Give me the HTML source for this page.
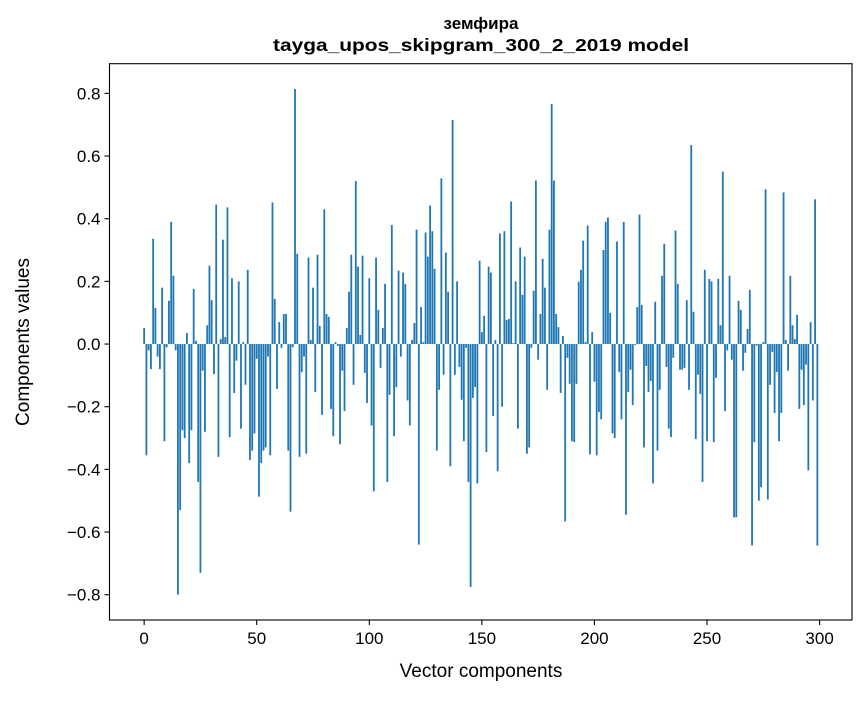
<!DOCTYPE html>
<html><head><meta charset="utf-8"><style>
body{margin:0;background:#fff;}
svg text{font-family:"Liberation Sans","DejaVu Sans",sans-serif;fill:#000;}
</style></head><body>
<svg id="chart" width="867" height="696" viewBox="0 0 867 696" xmlns="http://www.w3.org/2000/svg">
<rect width="867" height="696" fill="#fff"/>
<g id="bars"></g>
<g id="axes"></g>
<text x="481" y="29" font-size="17" font-weight="bold" text-anchor="middle">земфира</text>
<text x="481" y="51" font-size="17.5" font-weight="bold" text-anchor="middle" textLength="416" lengthAdjust="spacingAndGlyphs">tayga_upos_skipgram_300_2_2019 model</text>
<text x="481" y="677" font-size="19" text-anchor="middle">Vector components</text>
<text x="0" y="0" font-size="19" text-anchor="middle" transform="translate(29,342) rotate(-90)">Components values</text>
</svg>
<script>
const values = [
0.051,-0.355,-0.02,-0.08,0.336,0.115,-0.04,-0.08,0.18,-0.31,
-0.01,0.138,0.39,0.218,-0.02,-0.80,-0.53,-0.275,-0.30,0.035,
-0.38,-0.275,0.176,0.01,-0.44,-0.73,-0.085,-0.28,0.06,0.25,
0.14,-0.096,0.445,-0.36,0.016,0.333,0.022,0.436,-0.297,0.21,
-0.156,-0.053,0.20,-0.27,0.006,-0.13,0.237,-0.37,-0.34,-0.285,
-0.047,-0.487,-0.38,-0.34,-0.33,-0.04,-0.355,0.452,0.144,-0.143,
0.07,-0.012,0.096,0.096,-0.34,-0.535,-0.01,0.814,0.288,-0.36,
-0.09,-0.04,-0.35,0.276,0.013,0.18,-0.153,0.285,0.058,-0.226,
0.43,0.096,0.087,-0.207,-0.294,0.006,-0.006,-0.32,-0.085,-0.214,
0.051,0.167,0.285,-0.13,0.52,0.247,0.029,0.282,-0.092,-0.188,
0.21,-0.26,-0.47,0.276,0.109,-0.076,0.051,0.192,-0.44,-0.162,
0.38,-0.294,-0.137,0.234,-0.04,0.228,0.192,-0.18,-0.26,0.013,
0.067,0.365,-0.64,0.118,0.006,0.356,0.279,0.442,0.36,0.24,
-0.34,-0.146,0.529,-0.098,0.292,0.167,-0.39,0.715,-0.098,0.20,
-0.073,-0.178,-0.31,-0.012,-0.44,-0.775,-0.172,-0.137,-0.445,0.266,
0.038,0.09,-0.345,0.247,0.228,-0.23,0.013,-0.406,0.353,-0.2,
0.36,0.077,0.08,0.455,0.003,0.20,-0.27,0.308,0.157,0.279,
-0.35,-0.33,-0.012,0.17,0.522,-0.05,0.096,0.272,0.18,-0.146,
0.365,0.766,0.522,0.096,0.054,-0.156,0.026,-0.566,-0.044,-0.127,
-0.31,-0.313,-0.127,0.199,0.237,0.33,0.006,0.378,-0.352,0.038,
-0.12,-0.355,-0.217,-0.24,0.30,0.39,0.404,0.10,-0.285,-0.30,
0.327,-0.089,-0.24,0.39,-0.545,-0.153,-0.082,-0.195,-0.003,0.118,
0.413,0.125,-0.33,-0.07,-0.153,-0.118,-0.445,0.135,-0.34,-0.146,
0.218,0.32,-0.073,-0.27,-0.297,-0.044,0.362,0.192,-0.082,-0.082,
-0.076,0.14,-0.146,0.635,0.103,-0.303,-0.098,-0.159,-0.44,0.237,
-0.31,0.208,0.20,-0.313,-0.108,0.208,0.06,0.55,-0.214,-0.02,
0.218,-0.05,-0.553,-0.553,0.138,0.109,-0.085,-0.028,0.048,0.173,
-0.643,-0.313,-0.005,-0.50,-0.457,0.006,0.494,-0.496,-0.13,-0.025,
-0.22,-0.089,-0.31,-0.22,0.484,0.013,-0.085,0.218,0.06,0.016,
0.093,-0.207,-0.082,-0.195,-0.066,-0.403,0.07,-0.18,0.462,-0.643
];
const xTicks = [0,50,100,150,200,250,300];
const yTicks = [-0.8,-0.6,-0.4,-0.2,0.0,0.2,0.4,0.6,0.8];

const NS = "http://www.w3.org/2000/svg";
const L = 109.5, R = 852, T = 63.7, B = 620;
const n = values.length;
const xmin = -0.4 - 0.05 * (n - 1 + 0.8), xmax = n - 1 + 0.4 + 0.05 * (n - 1 + 0.8);
const vmin = Math.min(...values, 0), vmax = Math.max(...values, 0);
const pad = 0.05 * (vmax - vmin);
const ymin = vmin - pad, ymax = vmax + pad;
const xs = v => L + (v - xmin) / (xmax - xmin) * (R - L);
const ys = v => B - (v - ymin) / (ymax - ymin) * (B - T);

const bars = document.getElementById('bars');
values.forEach((v, i) => {
  const r = document.createElementNS(NS, 'rect');
  const x0 = xs(i - 0.4), x1 = xs(i + 0.4);
  const y0 = ys(Math.max(v, 0)), y1 = ys(Math.min(v, 0));
  r.setAttribute('x', x0);
  r.setAttribute('width', x1 - x0);
  r.setAttribute('y', y0);
  r.setAttribute('height', Math.max(y1 - y0, 0.3));
  r.setAttribute('fill', '#1f77b4');
  
  
  bars.appendChild(r);
});

const axes = document.getElementById('axes');
function add(tag, attrs, text) {
  const e = document.createElementNS(NS, tag);
  for (const k in attrs) e.setAttribute(k, attrs[k]);
  if (text !== undefined) e.textContent = text;
  axes.appendChild(e);
  return e;
}
const frame = add('rect', {x: L, y: T, width: R - L, height: B - T, fill: 'none', stroke: '#000', 'stroke-width': 1.1});


xTicks.forEach(t => {
  const x = xs(t);
  const tk = add('line', {x1: x, x2: x, y1: B, y2: B + 5, stroke: '#000', 'stroke-width': 1.1});
  
  
  const lb = add('text', {x: x, y: B + 24, 'font-size': 17, 'text-anchor': 'middle'}, String(t));
  
  
});
yTicks.forEach(t => {
  const y = ys(t);
  const tk = add('line', {x1: L - 5, x2: L, y1: y, y2: y, stroke: '#000', 'stroke-width': 1.1});
  
  
  const s = (t < 0 ? '\u2212' : '') + Math.abs(t).toFixed(1);
  const lb = add('text', {x: L - 9, y: y + 6, 'font-size': 17, 'text-anchor': 'end'}, s);
  
  
});
</script>
</body></html>
